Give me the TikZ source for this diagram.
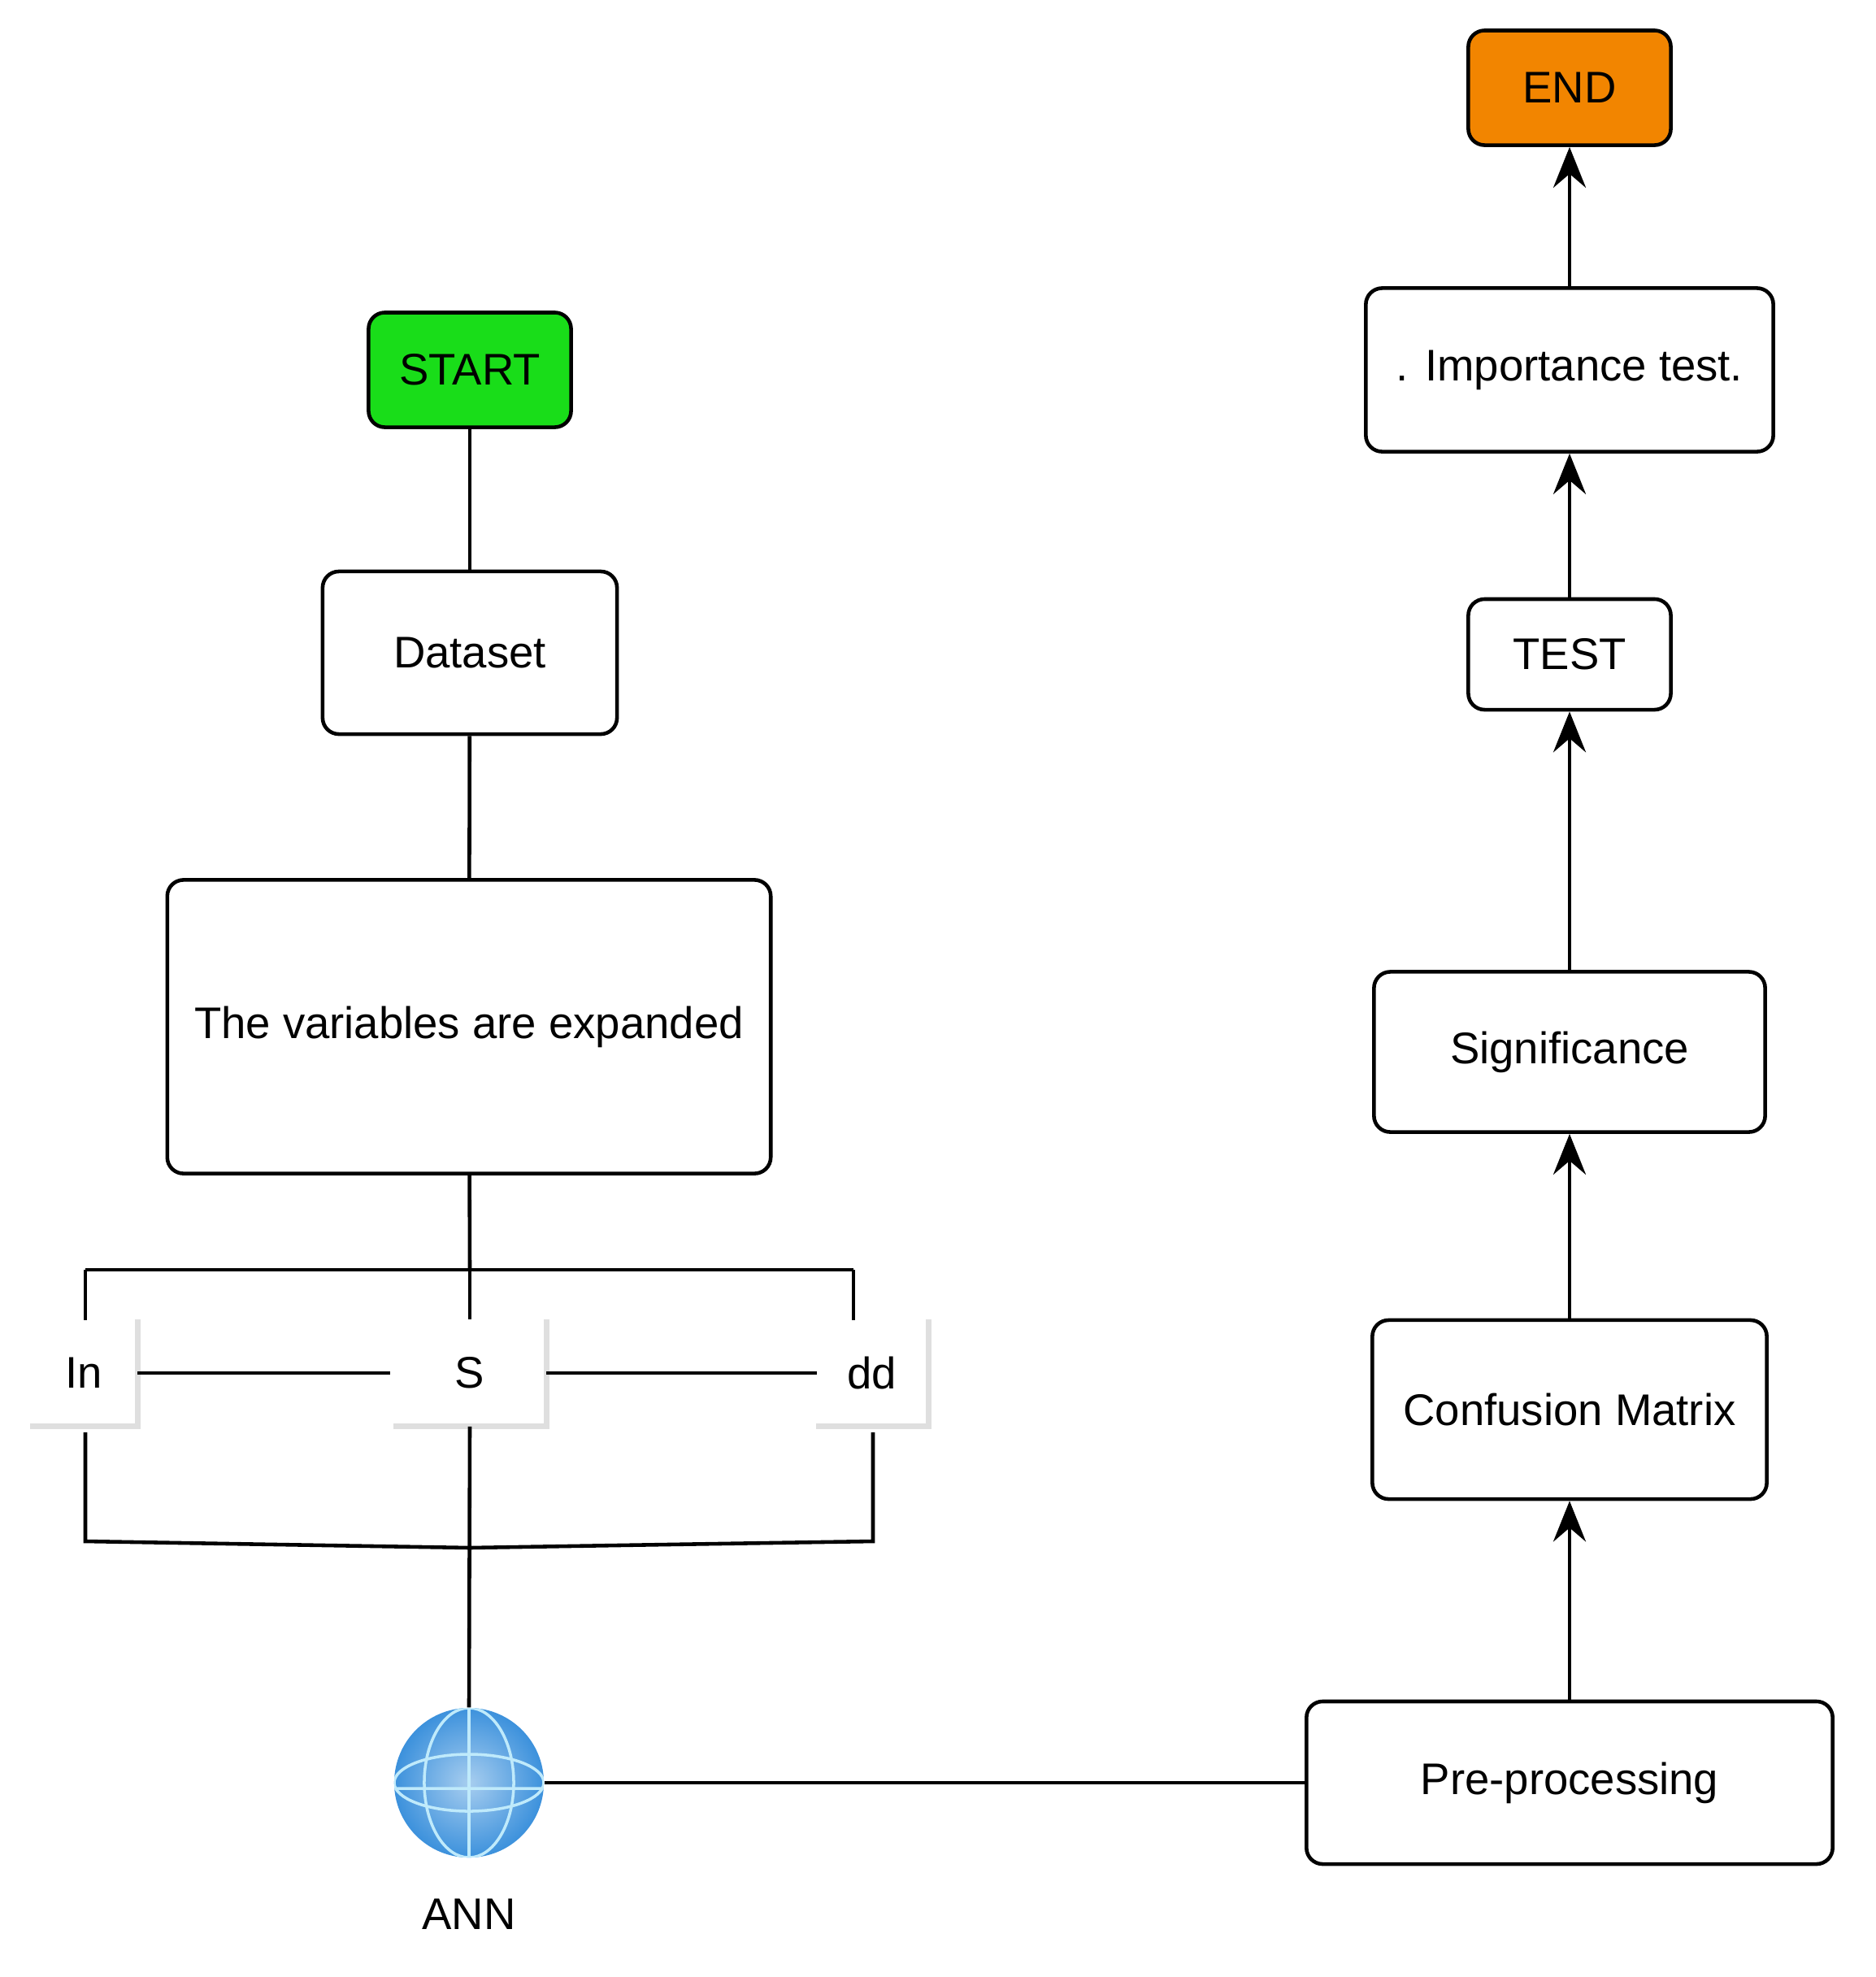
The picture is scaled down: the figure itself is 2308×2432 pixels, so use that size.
\documentclass[tikz,border=0pt]{standalone}
\usepackage{fontspec}
\setmainfont{Liberation Sans}
\usetikzlibrary{arrows.meta,shapes.geometric}
\definecolor{globe}{RGB}{60,145,220}
\begin{document}
\begin{tikzpicture}[x=0.01cm,y=-0.01cm,
  box/.style={draw,line width=1.3pt,rounded corners=0.2cm,fill=white,font=\fontsize{15.5}{19}\selectfont,inner sep=0pt},
  ln/.style={line width=1.3pt},
  arr/.style={line width=1.3pt,-{Stealth[length=0.5cm,width=0.4cm,inset=0.17cm]}},
  sbox/.style={fill=white,inner sep=0pt,font=\fontsize{15.5}{19}\selectfont}]
\useasboundingbox (0,0) rectangle (2308,2432);
\node[box,fill=green!85!black!90,minimum width=2.49cm,minimum height=1.41cm] (start) at (578,455) {START};
\node[box,minimum width=3.62cm,minimum height=2cm] (data) at (578,803) {Dataset};
\node[box,minimum width=7.42cm,minimum height=3.61cm] (var) at (577,1263) {The variables are expanded};
\node[box,minimum width=6.47cm,minimum height=2.0cm] (pre) at (1931,2193) {Pre-processing};
\node[box,minimum width=4.85cm,minimum height=2.2cm] (conf) at (1931,1734) {Confusion Matrix};
\node[box,minimum width=4.81cm,minimum height=1.97cm] (sig) at (1931,1294) {Significance};
\node[box,minimum width=2.49cm,minimum height=1.36cm] (test) at (1931,805) {TEST};
\node[box,minimum width=5.01cm,minimum height=2.01cm] (imp) at (1931,455) {. Importance test.};
\node[box,fill=orange!90!yellow!95!black,minimum width=2.49cm,minimum height=1.41cm] (end) at (1931,108) {END};
% small boxes with shadow
\foreach \n/\x/\w/\t in {in/103/131/In, s/578/187/S, dd/1073/137/dd}{
  \node[sbox,minimum width=\w*0.01cm,minimum height=1.3cm] (\n) at (\x,1689) {\t};
  \draw[gray!25,line width=2pt] (\n.north east) -- (\n.south east) -- (\n.south west);
}
\coordinate (tl) at (105,1562); \coordinate (tm) at (578,1562); \coordinate (tr) at (1050,1562);
\coordinate (bl) at (105,1896); \coordinate (bm) at (578,1904); \coordinate (br) at (1074,1896);
\draw[ln] (start) -- (data);
\draw[ln] (data) -- (var);
\draw[ln] (var) -- (tm);
\draw[ln] (tl) -- (tr);
\draw[ln] (tl) -- (105,1624);
\draw[ln] (tm) -- (s.north);
\draw[ln] (tr) -- (1050,1624);
\draw[ln] (in.east) -- (480,1693 |- in.east);
\draw[ln] (s.east) -- (1005,1693 |- s.east);
\draw[ln] (105,1762) -- (bl) .. controls (340,1900) .. (bm) .. controls (820,1900) .. (br) -- (1074,1762);
% globe
\shade[inner color=globe!45!white,outer color=globe] (577,2193) circle (0.92cm);
\node[circle,minimum size=1.84cm,inner sep=0pt] (ann) at (577,2193) {};
\begin{scope}
\clip (577,2193) circle (0.92cm);
\draw[cyan!25,line width=1pt] (577,2101) -- (577,2285) (485,2200) -- (669,2200)
  (577,2193) ellipse (0.55cm and 0.92cm) (577,2193) ellipse (0.92cm and 0.35cm);
\end{scope}
\node[font=\fontsize{15.5}{19}\selectfont] (annl) at (577,2355) {ANN};
\draw[ln] (s.south) -- (ann.north);
\draw[ln] (ann.east) -- (pre.west);
\draw[arr] (pre.north) -- (conf.south);
\draw[arr] (conf.north) -- (sig.south);
\draw[arr] (sig.north) -- (test.south);
\draw[arr] (test.north) -- (imp.south);
\draw[arr] (imp.north) -- (end.south);
\end{tikzpicture}
\end{document}
